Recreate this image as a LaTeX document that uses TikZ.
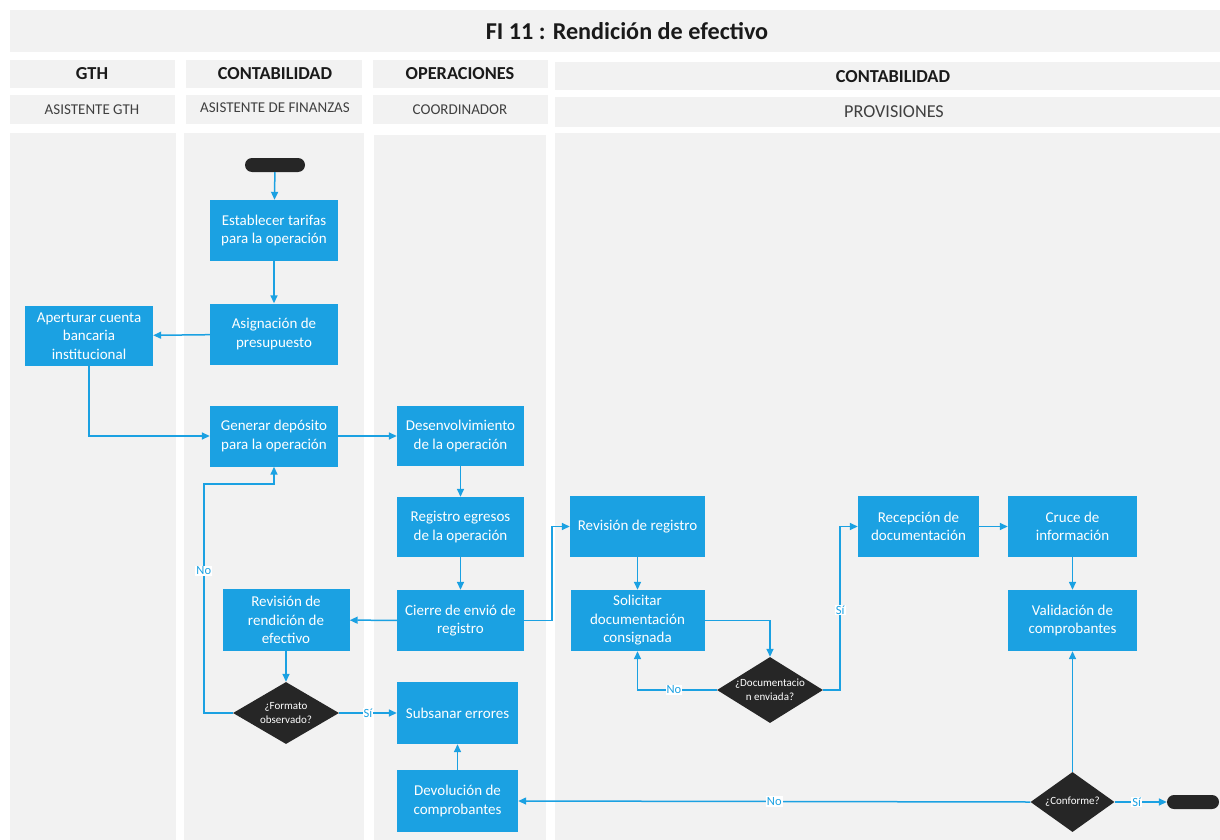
\documentclass[tikz,border=0pt]{standalone}
\usepackage{fontspec}
\setmainfont{Carlito}
\usetikzlibrary{shapes.geometric,arrows.meta}
\definecolor{lanegray}{HTML}{F2F2F2}
\definecolor{boxblue}{HTML}{1BA1E2}
\definecolor{darkfill}{HTML}{262626}
\definecolor{headtext}{HTML}{1A1A1A}
\definecolor{subtext}{HTML}{404040}

\begin{document}
\begin{tikzpicture}[x=1pt,y=-1pt,
  proc/.style={fill=boxblue, text=white, align=center, inner sep=0pt,
    minimum width=128pt, minimum height=61pt,
    font=\fontsize{15}{18.5}\selectfont},
  term/.style={fill=darkfill, rounded corners=7pt, minimum width=60pt,
    minimum height=14pt, inner sep=0pt},
  decision/.style={diamond, fill=darkfill, inner sep=0pt},
  dtext/.style={text=white, align=center, inner sep=0pt,
    font=\fontsize{11}{14}\selectfont},
  flow/.style={draw=boxblue, line width=1.5pt,
    -{Triangle[length=8pt,width=7pt]}},
  lbl/.style={fill=white, text=boxblue, inner sep=1pt,
    font=\fontsize{12.5}{14}\selectfont},
  headfont/.style={font=\bfseries\fontsize{18.3}{20}\selectfont, text=headtext},
  rolefont/.style={font=\fontsize{15}{17}\selectfont, text=subtext}]

\useasboundingbox (0,0) rectangle (1220,840);
\fill[white] (0,0) rectangle (1220,840);

% title bar
\fill[lanegray] (10,10) rectangle (1220,52);
\node[font=\bfseries\fontsize{24.2}{27}\selectfont, text=headtext] (title) at (627,31) {FI 11 : Rendición de efectivo};

% area headers
\fill[lanegray] (10,60) rectangle (175,88);
\fill[lanegray] (186,60) rectangle (362,88);
\fill[lanegray] (373,60) rectangle (548,88);
\fill[lanegray] (555,62) rectangle (1220,90);
\node[headfont] (hgth) at (92,74) {GTH};
\node[headfont] (hcont) at (275,74) {CONTABILIDAD};
\node[headfont] (hoper) at (460,74) {OPERACIONES};
\node[headfont] (hprov) at (893,77) {CONTABILIDAD};

% role headers
\fill[lanegray] (10,95) rectangle (175,124);
\fill[lanegray] (186,95) rectangle (362,124);
\fill[lanegray] (373,95) rectangle (548,124);
\fill[lanegray] (555,97) rectangle (1220,127);
\node[rolefont] (rgth) at (92,110) {ASISTENTE GTH};
\node[rolefont] (rcont) at (275,108) {ASISTENTE DE FINANZAS};
\node[rolefont] (roper) at (460,110) {COORDINADOR};
\node[rolefont, font=\fontsize{18.2}{20}\selectfont] (rprov) at (894,112) {PROVISIONES};

% swimlanes
\fill[lanegray] (10,133) rectangle (176,840);
\fill[lanegray] (184,133) rectangle (364,840);
\fill[lanegray] (374,135) rectangle (546,840);
\fill[lanegray] (555,133) rectangle (1220,840);

% steps
\node[term] (start) at (275,165) {};
\node[proc] (tarifas) at (274,230.5) {Establecer tarifas\\para la operación};
\node[proc] (asign) at (274,334) {Asignación de\\presupuesto};
\node[proc, minimum height=60pt] (apertura) at (89,336) {Aperturar cuenta\\bancaria\\institucional};
\node[proc] (generar) at (274,436) {Generar depósito\\para la operación};
\node[proc, minimum width=127pt, minimum height=60pt] (desenv) at (460.5,436) {Desenvolvimiento\\de la operación};
\node[proc, minimum width=127pt, minimum height=60pt] (registro) at (460.5,527) {Registro egresos\\de la operación};
\node[proc, minimum width=127pt] (cierre) at (460.5,620.5) {Cierre de envió de\\registro};
\node[proc, minimum width=127pt, minimum height=62pt] (revrend) at (286,620) {Revisión de\\rendición de\\efectivo};
\node[decision, minimum width=106pt, minimum height=62pt,
  label={[dtext]center:{¿Formato\\observado?}}] (formato) at (286,713) {};
\node[proc, minimum width=121pt, minimum height=62pt] (subsanar) at (457.5,713) {Subsanar errores};
\node[proc, minimum width=121pt, minimum height=62pt] (devol) at (457.5,801) {Devolución de\\comprobantes};
\node[proc, minimum width=135pt] (revreg) at (637.5,526.5) {Revisión de registro};
\node[proc, minimum width=134pt] (solicitar) at (637.5,620.5) {Solicitar\\documentación\\consignada};
\node[decision, minimum width=106pt, minimum height=66pt,
  label={[dtext]center:{¿Documentacio\\n enviada?}}] (docenv) at (770,690) {};
\node[proc, minimum width=121pt] (recep) at (918.5,526.5) {Recepción de\\documentación};
\node[proc, minimum width=129pt] (cruce) at (1072.5,526.5) {Cruce de\\información};
\node[proc, minimum width=129pt] (valid) at (1072.5,620.5) {Validación de\\comprobantes};
\node[decision, minimum width=84pt, minimum height=60pt,
  label={[dtext]center:{¿Conforme?}}] (conforme) at (1072.5,802) {};
\node[term, minimum width=52pt] (fin) at (1193,802) {};

% flow
\draw[flow] (start) -- (tarifas);
\draw[flow] (tarifas) -- (asign);
\draw[flow] (asign) -- (apertura);
\draw[flow] (apertura.south) |- (generar.west);
\draw[flow] (generar) -- (desenv);
\draw[flow] (desenv) -- (registro);
\draw[flow] (registro) -- (cierre);
\draw[flow] (cierre) -- (revrend);
\draw[flow] (cierre.east) -- ++(28,0) |- (revreg.west);
\draw[flow] (revrend) -- (formato);
\draw[flow] (formato.west) -- ++(-29,0) -- node[lbl, pos=0.62] {No} ++(0,-229) -| (generar.south);
\draw[flow] (formato.east) -- node[lbl] {Sí} (subsanar.west);
\draw[flow] (devol) -- (subsanar);
\draw[flow] (conforme.west) -- node[lbl, pos=0.5] {No} (devol.east);
\draw[flow] (conforme.east) -- node[lbl, pos=0.42] {Sí} (fin.west);
\draw[flow] (revreg) -- (solicitar);
\draw[flow] (solicitar.east) -| (docenv.north);
\draw[flow] (docenv.west) -| node[lbl, pos=0.27] {No} (solicitar.south);
\draw[flow] (docenv.east) -- ++(17,0) |- node[lbl, pos=0.245] {Sí} (recep.west);
\draw[flow] (recep) -- (cruce);
\draw[flow] (cruce) -- (valid);
\draw[flow] (conforme) -- (valid);
\end{tikzpicture}
\end{document}
